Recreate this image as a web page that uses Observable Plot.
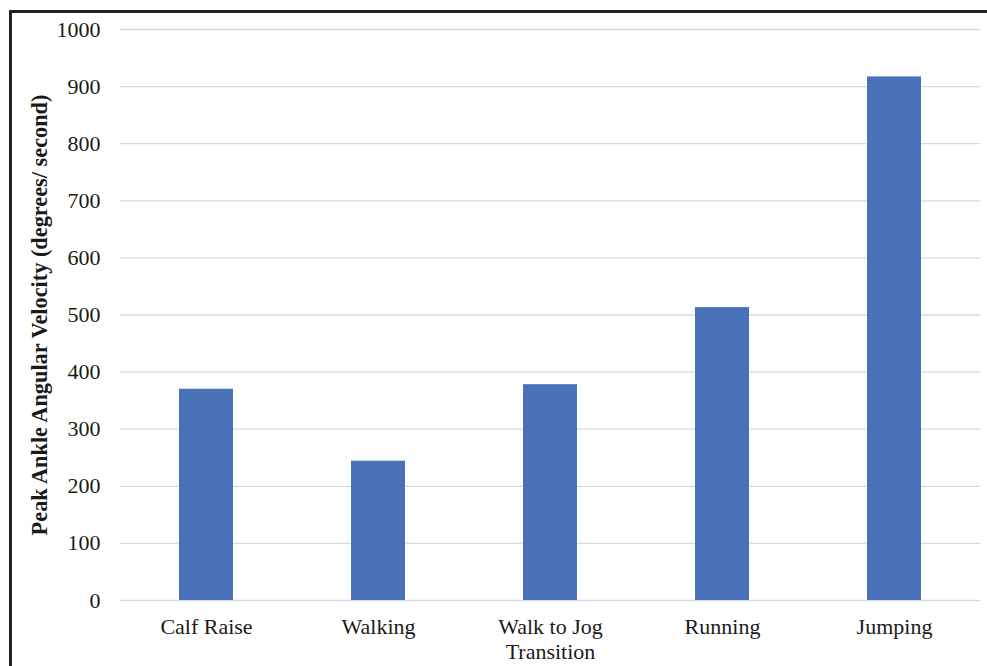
<!DOCTYPE html>
<html>
<head>
<meta charset="utf-8">
<script src="https://cdn.jsdelivr.net/npm/d3@7"></script>
<script src="https://cdn.jsdelivr.net/npm/@observablehq/plot@0.6"></script>
<style>
  html, body { margin: 0; padding: 0; background: #fff; }
  #wrap { position: relative; width: 987px; height: 666px; overflow: hidden; }
  #frame { position: absolute; left: 9px; top: 10px; width: 1200px; height: 900px;
           border-left: 3px solid #222; border-top: 3px solid #222; pointer-events: none; }
  #chart svg { display: block; }
</style>
</head>
<body>
<div id="wrap">
  <div id="chart"></div>
  <div id="frame"></div>
</div>
<script>
const categories = ["Calf Raise", "Walking", "Walk to Jog Transition", "Running", "Jumping"];
const values = [370, 244, 378, 513, 917];
const yTicks = [0, 100, 200, 300, 400, 500, 600, 700, 800, 900, 1000];
const yLabel = "Peak Ankle Angular Velocity (degrees/ second)";

const data = categories.map((c, i) => ({category: c, value: values[i]}));
const labelFmt = (d) => d === "Walk to Jog Transition" ? "Walk to Jog\nTransition" : d;

const chart = Plot.plot({
  width: 987,
  height: 666,
  marginLeft: 120,
  marginRight: 7,
  marginTop: 29,
  marginBottom: 66,
  style: { fontFamily: "'Liberation Serif', 'Times New Roman', serif", fontSize: "22px", color: "#1a1a1a", background: "#fff" },
  x: { domain: categories, paddingInner: 0.686, paddingOuter: 0.343, align: 0.5 },
  y: { domain: [0, 1000] },
  marks: [
    Plot.gridY(yTicks, { stroke: "#d9d9d9", strokeOpacity: 1, strokeWidth: 1.3 }),
    Plot.barY(data, { x: "category", y: "value", fill: "#4A72B8" }),
    Plot.axisY(yTicks, { tickSize: 0, tickPadding: 20, label: null, fontSize: 22, tickFormat: d => String(d) }),
    Plot.axisX({ tickSize: 0, tickPadding: 16, label: null, tickFormat: labelFmt, lineHeight: 1.12, fontSize: 22 }),
    Plot.text([yLabel], { frameAnchor: "left", rotate: -90, dx: -81, textAnchor: "middle", fontWeight: "bold", fontSize: 22.3, fill: "#1a1a1a", text: d => d })
  ]
});
document.getElementById("chart").appendChild(chart);
</script>
</body>
</html>
